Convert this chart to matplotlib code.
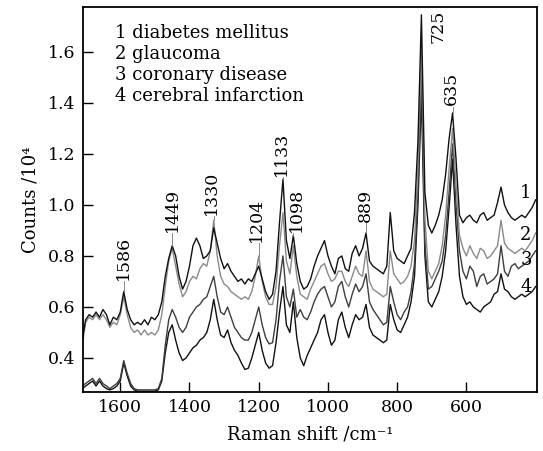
import matplotlib
matplotlib.use("Agg")
import matplotlib.pyplot as plt
import numpy as np

SERIF = "DejaVu Serif"

# Raman shift grid (cm^-1), shared by all four spectra
shift = np.arange(1710, 399, -10)

# Counts / 10^4 at each grid point
diabetes = [
    0.47, 0.55, 0.57, 0.56, 0.58, 0.56, 0.59, 0.57, 0.53, 0.56,
    0.55, 0.58, 0.66, 0.59, 0.55, 0.53, 0.54, 0.53, 0.55, 0.53,
    0.56, 0.55, 0.57, 0.62, 0.72, 0.79, 0.84, 0.80, 0.72, 0.67,
    0.70, 0.76, 0.84, 0.87, 0.84, 0.79, 0.80, 0.82, 0.91, 0.85,
    0.79, 0.75, 0.77, 0.74, 0.72, 0.70, 0.71, 0.69, 0.71, 0.70,
    0.73, 0.76, 0.71, 0.66, 0.63, 0.65, 0.74, 0.93, 1.10, 0.86,
    0.79, 0.88, 0.77, 0.70, 0.67, 0.68, 0.71, 0.76, 0.80, 0.83,
    0.86, 0.80, 0.76, 0.73, 0.79, 0.80, 0.75, 0.74, 0.81, 0.84,
    0.80, 0.83, 0.89, 0.78, 0.76, 0.75, 0.74, 0.73, 0.76, 0.97,
    0.82, 0.79, 0.78, 0.77, 0.80, 0.83, 0.97, 1.25, 1.745, 1.05,
    0.92, 0.89, 0.92, 0.96, 1.02, 1.12, 1.26, 1.36, 1.18, 0.96,
    0.93, 0.95, 0.96, 0.94, 0.93, 0.96, 0.97, 0.94, 0.95, 0.96,
    1.01, 1.07, 1.00, 0.97, 0.95, 0.94, 0.95, 0.96, 0.95, 0.97,
    0.99, 1.02,
]
glaucoma = [
    0.45, 0.54, 0.56, 0.55, 0.57, 0.55, 0.57, 0.55, 0.52, 0.54,
    0.53, 0.57, 0.64, 0.57, 0.52, 0.50, 0.51, 0.49, 0.51, 0.49,
    0.50, 0.49, 0.51, 0.57, 0.68, 0.78, 0.83, 0.76, 0.69, 0.64,
    0.66, 0.70, 0.72, 0.71, 0.75, 0.77, 0.76, 0.82, 0.94, 0.80,
    0.72, 0.69, 0.68, 0.66, 0.65, 0.64, 0.63, 0.64, 0.63, 0.66,
    0.72, 0.80, 0.70, 0.64, 0.61, 0.61, 0.68, 0.84, 0.97, 0.78,
    0.73, 0.84, 0.72, 0.65, 0.64, 0.63, 0.67, 0.70, 0.73, 0.76,
    0.77, 0.73, 0.70, 0.71, 0.74, 0.74, 0.70, 0.68, 0.72, 0.76,
    0.73, 0.72, 0.82, 0.70, 0.67, 0.66, 0.65, 0.64, 0.65, 0.82,
    0.73, 0.71, 0.69, 0.70, 0.72, 0.76, 0.86, 1.15, 1.62, 0.95,
    0.74, 0.71, 0.74, 0.77, 0.84, 0.96, 1.14, 1.30, 1.08, 0.88,
    0.83, 0.80, 0.84, 0.81, 0.79, 0.83, 0.82, 0.79, 0.80, 0.82,
    0.84, 0.94, 0.85, 0.83, 0.82, 0.81, 0.82, 0.83, 0.82, 0.84,
    0.86, 0.89,
]
coronary = [
    0.29, 0.30, 0.31, 0.32, 0.30, 0.32, 0.30, 0.29, 0.28, 0.29,
    0.30, 0.32, 0.39, 0.34, 0.30, 0.28, 0.275, 0.275, 0.275, 0.275,
    0.275, 0.275, 0.28, 0.32, 0.45, 0.55, 0.59, 0.56, 0.52, 0.50,
    0.52, 0.56, 0.58, 0.60, 0.61, 0.63, 0.64, 0.68, 0.72, 0.64,
    0.58, 0.57, 0.60, 0.56, 0.52, 0.50, 0.48, 0.47, 0.47, 0.50,
    0.55, 0.60, 0.53, 0.48, 0.455, 0.46, 0.55, 0.70, 0.80, 0.64,
    0.60, 0.67, 0.56, 0.59, 0.56, 0.55, 0.58, 0.62, 0.65, 0.67,
    0.68, 0.64, 0.60, 0.62, 0.68, 0.70, 0.64, 0.60, 0.65, 0.69,
    0.66, 0.68, 0.73, 0.62, 0.59, 0.57, 0.55, 0.53, 0.54, 0.68,
    0.62, 0.57, 0.55, 0.58, 0.60, 0.66, 0.77, 1.05, 1.52, 0.85,
    0.67, 0.68, 0.71, 0.74, 0.78, 0.88, 1.05, 1.24, 1.00, 0.82,
    0.74, 0.71, 0.76, 0.74, 0.68, 0.72, 0.73, 0.69, 0.70, 0.71,
    0.73, 0.84, 0.74, 0.72, 0.76, 0.77, 0.75, 0.76, 0.77, 0.78,
    0.80, 0.82,
]
infarction = [
    0.28, 0.29, 0.30, 0.31, 0.29, 0.31, 0.29, 0.28, 0.275, 0.28,
    0.29, 0.31, 0.38, 0.33, 0.29, 0.275, 0.27, 0.27, 0.27, 0.27,
    0.27, 0.27, 0.275, 0.31, 0.42, 0.50, 0.53, 0.47, 0.42, 0.39,
    0.40, 0.42, 0.44, 0.45, 0.47, 0.48, 0.50, 0.55, 0.63, 0.55,
    0.49, 0.48, 0.51, 0.46, 0.43, 0.41, 0.38, 0.355, 0.36, 0.40,
    0.45, 0.50, 0.43, 0.38, 0.36, 0.37, 0.46, 0.58, 0.68, 0.53,
    0.50, 0.62, 0.48, 0.40, 0.37, 0.41, 0.44, 0.47, 0.50, 0.55,
    0.57, 0.50, 0.45, 0.47, 0.55, 0.58, 0.52, 0.48, 0.53, 0.57,
    0.55, 0.56, 0.61, 0.52, 0.49, 0.48, 0.47, 0.46, 0.47, 0.61,
    0.55, 0.51, 0.50, 0.53, 0.56, 0.62, 0.72, 1.00, 1.44, 0.80,
    0.62, 0.60, 0.63, 0.66, 0.72, 0.82, 0.99, 1.18, 0.92, 0.72,
    0.64, 0.61, 0.62, 0.60, 0.59, 0.58, 0.60, 0.61, 0.62, 0.65,
    0.66, 0.73, 0.67, 0.66, 0.64, 0.63, 0.64, 0.65, 0.64, 0.65,
    0.66, 0.68,
]

legend_lines = ["1 diabetes mellitus", "2 glaucoma", "3 coronary disease", "4 cerebral infarction"]
curve_ids = ["1", "2", "3", "4"]

# peak labels: text, peak position, label centre position, label base height
peak_names = ["1586", "1449", "1330", "1204", "1133", "1098", "889", "635"]
peak_at = [1590, 1450, 1330, 1200, 1130, 1100, 890, 640]
label_x = [1591, 1448, 1336, 1206, 1134, 1091, 893, 643]
label_y = [0.70, 0.89, 0.955, 0.85, 1.11, 0.89, 0.93, 1.385]

plt.rcParams.update({
    "font.family": SERIF,
    "font.size": 12.5,
    "axes.linewidth": 1.3,
    "xtick.direction": "in",
    "ytick.direction": "in",
    "xtick.major.size": 7,
    "ytick.major.size": 7,
    "xtick.major.width": 1.0,
    "ytick.major.width": 1.0,
})

fig = plt.figure(figsize=(5.43, 4.51), dpi=100)
ax = fig.add_axes([0.152, 0.131, 0.837, 0.853])

series = [infarction, coronary, glaucoma, diabetes]
colors = ["#111111", "#3e3e3e", "#8a8a8a", "#111111"]
for values, color in zip(series, colors):
    ax.plot(shift, values, color=color, lw=1.0)

ax.set_xlim(1709, 396)
ax.set_ylim(0.267, 1.775)
ax.set_xticks([1600, 1400, 1200, 1000, 800, 600])
ax.set_yticks([0.4, 0.6, 0.8, 1.0, 1.2, 1.4, 1.6])
ax.set_yticklabels(["0.4", "0.6", "0.8", "1.0", "1.2", "1.4", "1.6"])
ax.tick_params(top=False, right=False, labelsize=12.5, pad=5)
ax.set_xlabel("Raman shift /cm⁻¹", fontsize=13, labelpad=7)
ax.set_ylabel("Counts /10⁴", fontsize=13, labelpad=6)

for i, line in enumerate(legend_lines):
    ax.text(0.071, 0.933 - i * 0.055, line, transform=ax.transAxes, fontsize=13, va="center", ha="left")

top = np.max(np.vstack(series), axis=0)
for name, pos, tx, ty in zip(peak_names, peak_at, label_x, label_y):
    peak = top[np.argmin(np.abs(shift - pos))]
    ax.plot([pos, pos], [peak, ty], color="#777777", lw=0.6)
    ax.text(tx, ty + 0.005, name, rotation=90, ha="center", va="bottom", fontsize=12.5)

ax.text(682, 1.70, "725", rotation=90, ha="center", va="center", fontsize=12.5)

for cid, yy in zip(curve_ids, [1.047, 0.882, 0.784, 0.678]):
    ax.text(428, yy, cid, ha="center", va="center", fontsize=13)

fig.savefig("out.png", dpi=100)
